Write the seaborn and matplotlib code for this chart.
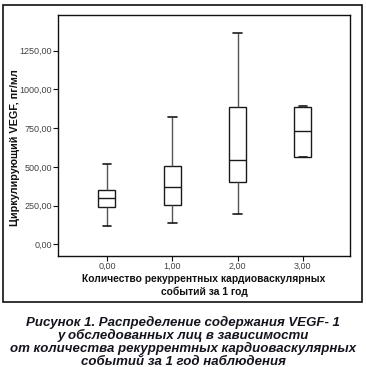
import matplotlib
import matplotlib.pyplot as plt
import seaborn as sns
import pandas as pd
from matplotlib.patches import Rectangle

matplotlib.use('Agg')

# five-number summaries (min, Q1, median, Q3, max)
events = ['0,00', '1,00', '2,00', '3,00']
vegf_0 = [116, 239, 297, 353, 518]
vegf_1 = [136, 252, 372, 503, 822]
vegf_2 = [194, 404, 542, 889, 1362]
vegf_3 = [561, 561, 729, 889, 891]
yticks = [0, 250, 500, 750, 1000, 1250]
ytick_labels = ['0,00', '250,00', '500,00', '750,00', '1000,00', '1250,00']

caption = ('Рисунок 1. Распределение содержания VEGF- 1\n'
           'у обследованных лиц в зависимости\n'
           'от количества рекуррентных кардиоваскулярных\n'
           'событий за 1 год наблюдения')

df = pd.DataFrame({
    'events': [events[0]] * 5 + [events[1]] * 5 + [events[2]] * 5 + [events[3]] * 5,
    'vegf': vegf_0 + vegf_1 + vegf_2 + vegf_3,
})

sns.set_style('white')
plt.rcParams['font.family'] = ['Liberation Sans', 'DejaVu Sans']

fig = plt.figure(figsize=(3.66, 3.67), dpi=100)
ax = fig.add_axes([0.1585, 0.3025, 0.7975, 0.6565])

sns.boxplot(data=df, x='events', y='vegf', order=events, whis=float('inf'),
            width=0.26, color='white', linecolor='#1a1a1a', linewidth=1.0,
            boxprops=dict(facecolor='white', edgecolor='#1a1a1a'),
            whiskerprops=dict(color='#555555', linewidth=1.0),
            capprops=dict(color='#1a1a1a', linewidth=1.2),
            medianprops=dict(color='#1a1a1a', linewidth=1.0), ax=ax)

ax.set_xlim(-0.75, 3.72)
ax.set_ylim(-75, 1480)
ax.set_yticks(yticks)
ax.set_yticklabels(ytick_labels)

for s in ax.spines.values():
    s.set_color('#111111')
    s.set_linewidth(1.0)

ax.tick_params(axis='both', labelsize=6.5, colors='#111111', labelcolor='#444444',
               length=3.5, width=0.8, direction='out', left=True, bottom=True, pad=1)

ax.set_xlabel('Количество рекуррентных кардиоваскулярных\nсобытий за 1 год',
              fontsize=7.4, fontweight='bold', color='#111111', labelpad=2,
              linespacing=1.3)
ax.set_ylabel('Циркулирующий VEGF, пг/мл', fontsize=7.8, fontweight='bold',
              color='#111111')
ax.yaxis.set_label_coords(-0.13, 0.45)

# outer frame around the chart
fig.patches.append(Rectangle((0.0082, 0.177), 0.981, 0.809, transform=fig.transFigure,
                             fill=False, edgecolor='#111111', linewidth=1.2))

fig.text(0.5, 0.139, caption, ha='center', va='top', fontsize=9.5,
         fontweight='bold', fontstyle='italic', color='#14141e', linespacing=1.02)

fig.savefig('out.png', dpi=100)
